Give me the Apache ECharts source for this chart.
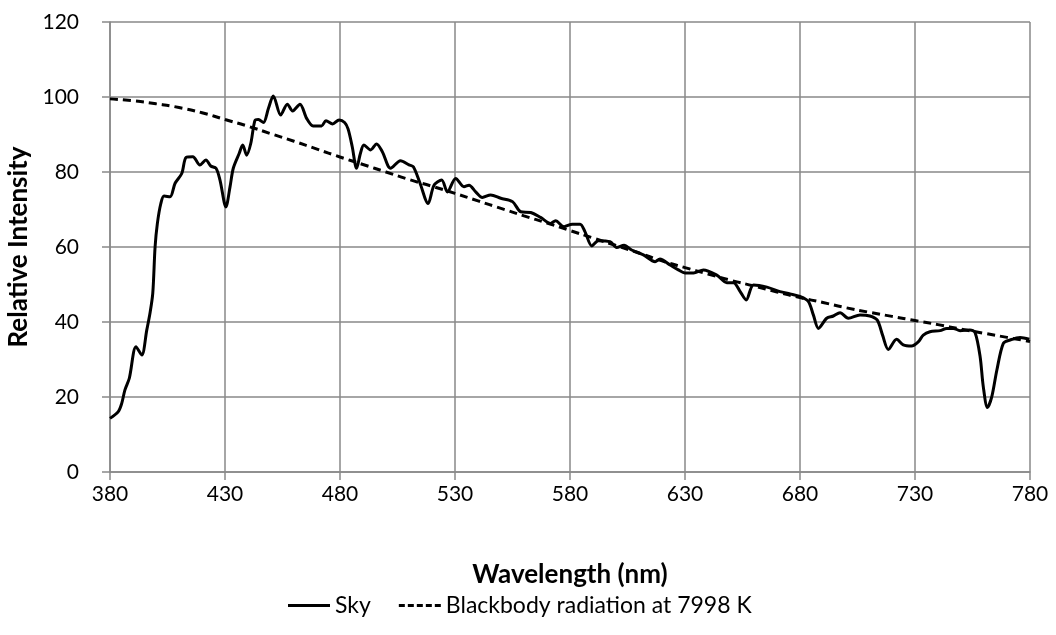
<!DOCTYPE html>
<html>
<head>
<meta charset="utf-8">
<script src="https://cdn.jsdelivr.net/npm/echarts@6/dist/echarts.min.js"></script>
<style>
html,body{margin:0;padding:0;background:#fff;}
#chart{width:1056px;height:635px;}
</style>
</head>
<body>
<div id="chart"></div>
<script>
// Data
const skyWavelengths = [380,383.6,385.1,386.5,388.4,391.3,393.8,396,397.4,398.6,399.6,400.6,402.1,403.5,406.1,408.3,411.2,413.1,416,419.1,421.7,423.8,426.1,427.8,430.4,432.2,433.6,436.2,437.7,439.4,441.2,443,444.5,446.7,448.9,451,454.2,457.1,459.4,462.6,465.5,468.3,472,473.9,476.8,479.6,482,483.5,485.3,487.2,488.9,490.4,493.3,495.9,498.4,502,506.3,510,511.9,514.8,518.3,520.9,524.2,526.7,530.3,533.9,536.1,539,541.9,545.5,549.9,555,558.6,562.9,567.2,571.6,573.7,577.4,581,584.4,586.5,589.5,592.3,597.4,600.3,603.5,606.8,611.9,617,619.1,623.5,627.1,630,633.7,638,643.8,648.2,651.1,654,656.6,659.8,665.6,671.3,675.7,680,683.6,685.8,688,691.6,694.5,697.4,701,706.1,710.4,713.6,715.9,718.4,722,724.9,728.5,731.4,733.6,736.5,740.9,743.8,746.7,749.6,753.9,756.1,758.3,759.7,761.5,763.4,765.6,768.4,771.3,775.7,779.7];
const skyValues = [14.3,16.1,18.3,21.9,25,33.4,31.2,37.9,42.4,47.7,60,66.3,71.6,73.6,73.4,77,79.6,83.9,84.1,81.9,83.2,81.6,81,77.9,70.7,76.1,81,85,87.2,84.5,87.6,93.7,94,93.2,97,100.3,95.2,98.1,96.3,98.1,94.3,92.3,92.3,93.7,92.8,93.9,93.2,91.5,86.8,81,85,87.2,85.9,87.5,85.4,81,83,81.9,81.4,77,71.6,76.5,77.9,74.7,78.3,76.1,76.5,74.7,73.2,73.9,73,72.1,69.4,69.2,67.9,66.3,67,65.4,66.1,66.1,64.1,60.3,61.7,61.4,59.9,60.5,59.2,57.9,56.1,56.8,55.2,53.9,53.1,53.1,53.9,52.5,50.5,50.5,48.1,45.9,49.9,49.3,48.1,47.5,46.8,45.5,41.9,38.3,41,41.6,42.5,41,41.9,41.6,40.5,36.5,32.7,35.4,33.9,33.6,34.7,36.5,37.4,37.7,38.3,38.3,37.7,37.9,37.2,30.8,22.7,17.2,20.1,27.2,34.3,35.2,35.9,35.4];
const bbWavelengths = [380,390,400,410,420,430,440,450,460,470,480,490,500,510,520,530,540,550,560,570,580,590,600,610,620,630,640,650,660,670,680,690,700,710,720,730,740,750,760,770,780];
const bbValues = [99.5,99,98.2,97.2,95.8,94,92.2,90.2,88.2,86.1,84,82,80,78,76.2,74.3,72.3,70.3,68.3,66.4,64.4,62.4,60.4,58.4,56.3,54.5,52.8,51.1,49.6,48,46.5,45.2,43.8,42.6,41.5,40.4,39.3,38.1,37,35.9,34.8];
const seriesNames = ['Sky', 'Blackbody radiation at 7998 K'];
const xTitle = 'Wavelength (nm)';
const yTitle = 'Relative Intensity';

const skyData = skyWavelengths.map((w, i) => [w, skyValues[i]]);
const bbData = bbWavelengths.map((w, i) => [w, bbValues[i]]);

const font = 'Lato, "Open Sans", sans-serif';
const gridColor = '#898989';
const chart = echarts.init(document.getElementById('chart'));
chart.setOption({
  animation: false,
  backgroundColor: '#fff',
  textStyle: { fontFamily: font, color: '#000' },
  grid: { left: 110, right: 26, top: 22, bottom: 163, containLabel: false, outerBoundsMode: 'none' },
  legend: {
    bottom: 13, left: 283,
    itemWidth: 42, itemHeight: 12, itemGap: 28,
    textStyle: { fontFamily: font, fontSize: 23, color: '#000' },
    data: [
      { name: seriesNames[0], icon: 'path://M0,0L42,0L42,3L0,3Z' },
      { name: seriesNames[1], icon: 'path://M0,0h6v3h-6z M9,0h6v3h-6z M18,0h6v3h-6z M27,0h6v3h-6z M36,0h6v3h-6z' }
    ]
  },
  xAxis: {
    type: 'value', min: 380, max: 780, interval: 50,
    name: xTitle, nameLocation: 'middle', nameGap: 90,
    nameTextStyle: { fontFamily: font, fontSize: 26, fontWeight: 'bold', color: '#000' },
    axisLine: { show: true, lineStyle: { color: gridColor, width: 1.5 } },
    axisTick: { show: true, length: 8, lineStyle: { color: gridColor, width: 1.5 } },
    axisLabel: { fontFamily: font, fontSize: 21, color: '#000', margin: 12 },
    splitLine: { show: true, lineStyle: { color: gridColor, width: 1.5 } }
  },
  yAxis: {
    type: 'value', min: 0, max: 120, interval: 20,
    name: yTitle, nameLocation: 'middle', nameGap: 78,
    nameTextStyle: { fontFamily: font, fontSize: 26, fontWeight: 'bold', color: '#000' },
    axisLine: { show: true, lineStyle: { color: gridColor, width: 1.5 } },
    axisTick: { show: true, length: 8, lineStyle: { color: gridColor, width: 1.5 } },
    axisLabel: { fontFamily: font, fontSize: 21, color: '#000', margin: 31 },
    splitLine: { show: true, lineStyle: { color: gridColor, width: 1.5 } }
  },
  series: [
    {
      name: seriesNames[0], type: 'line', data: skyData,
      showSymbol: false, symbol: 'none', smooth: 0.3,
      lineStyle: { color: '#000', width: 3 },
      itemStyle: { color: '#000' }, z: 3
    },
    {
      name: seriesNames[1], type: 'line', data: bbData,
      showSymbol: false, symbol: 'none', smooth: true,
      lineStyle: { color: '#000', width: 3, type: [8, 5] },
      itemStyle: { color: '#000' }, z: 2
    }
  ]
});
</script>
</body>
</html>
